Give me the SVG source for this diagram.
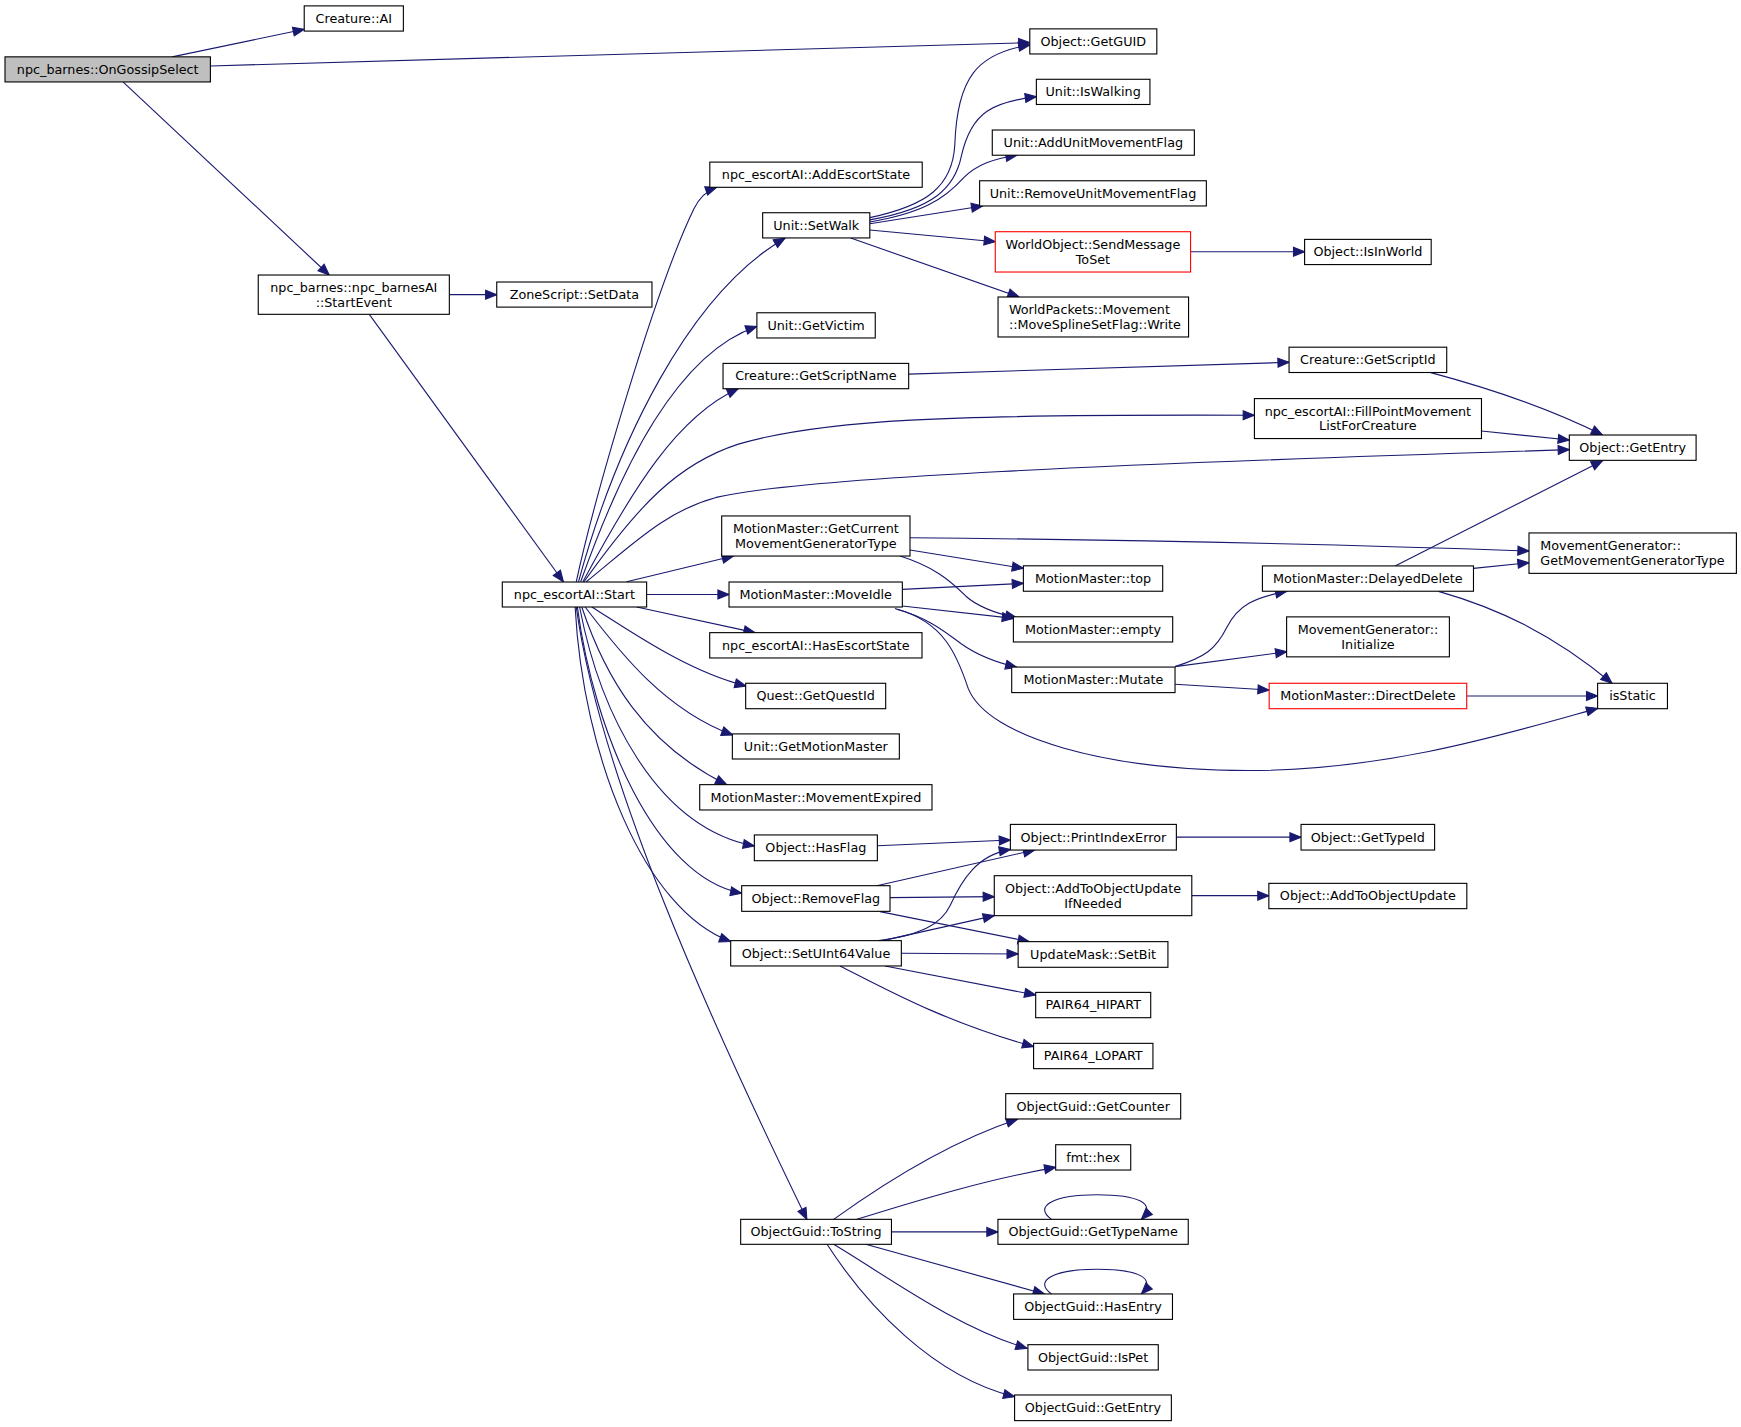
<svg xmlns="http://www.w3.org/2000/svg" width="1741" height="1427" viewBox="0 0 1741 1427">
<style>
.n rect{fill:#fff;stroke:#000;stroke-width:1}
.n.root rect{fill:#bfbfbf}
.n.red rect{stroke:#f00}
text{font-family:"DejaVu Sans","Liberation Sans",sans-serif;font-size:11.5px;fill:#000;text-anchor:middle}
text.l{text-anchor:start}
#edges path{fill:none;stroke:#191970;stroke-width:1;marker-end:url(#a)}
</style>
<defs>
<marker id="a" markerUnits="userSpaceOnUse" markerWidth="12" markerHeight="10" refX="10" refY="4" orient="auto" overflow="visible"><path d="M0,0 L10,4 L0,8 z" fill="#191970" stroke="#191970" stroke-width="1"/></marker>
</defs>
<rect x="0" y="0" width="1741" height="1427" fill="#fff"/>
<g transform="scale(1.1103)">
<g id="edges">
<path d="M155,51.2 L274,26.4"/>
<path d="M189.6,59.4 L927.5,38.4"/>
<path d="M111,74 L296.5,247.7"/>
<path d="M404.7,265.4 L447.4,265.4"/>
<path d="M332.6,283.1 L507.4,524"/>
<path d="M519,524 C535,450 590,260 625,188 C630,178 636,172 645.5,168.7"/>
<path d="M521,524 C555,400 620,265 707,214.5"/>
<path d="M523,524 C560,420 610,318 681.7,294"/>
<path d="M525,524 C570,440 610,375 665,350"/>
<path d="M526,524 C575,455 610,418 665,400 C740,378 850,373 1129.7,374"/>
<path d="M528,524 C570,490 600,460 645,448 C720,430 1000,418 1413.4,405"/>
<path d="M564.4,524 L660.5,500.8"/>
<path d="M582.4,535.5 L656.6,535.5"/>
<path d="M573.4,546.7 L680,569.8"/>
<path d="M533,546.7 C570,570 620,605 671.9,617.9"/>
<path d="M527,546.7 C560,590 600,640 659.9,662"/>
<path d="M524,546.7 C545,610 580,670 654.5,706.7"/>
<path d="M522,546.7 C540,640 590,745 679.4,762"/>
<path d="M520,546.7 C535,660 590,790 668,804.6"/>
<path d="M518,546.7 C525,680 580,820 658.1,848"/>
<path d="M519,546.7 C540,700 640,920 726.7,1098.2"/>
<path d="M783.4,196 C835,185 858,168 860,130 C862,70 880,48 927.5,40.5"/>
<path d="M783.4,198 C840,188 860,170 866,140 C875,100 895,92 933.4,87"/>
<path d="M783.4,200 C830,192 850,180 868,160 C880,148 895,143 916,139.8"/>
<path d="M783.4,201.5 L885,185.5"/>
<path d="M783.4,207.2 L896.4,217.7"/>
<path d="M766.2,214.4 L917.8,267.5"/>
<path d="M1072.3,226.8 L1175,226.8"/>
<path d="M818.4,337 L1161,326.3"/>
<path d="M1288.7,335.6 C1350,352 1400,370 1443.3,391.8"/>
<path d="M1334.3,388.2 L1413.4,396.3"/>
<path d="M819.6,484.3 C1000,486 1200,490 1377.1,496.3"/>
<path d="M819.6,495.4 L921.7,511.9"/>
<path d="M810.6,500.8 C840,510 855,522 870,537 C880,546 895,552 915.7,556.5"/>
<path d="M812.7,530.8 L921.7,525.4"/>
<path d="M812.7,545.8 L912.7,556.9"/>
<path d="M806,548 C835,556 850,568 866,580 C880,590 895,596 915.7,601"/>
<path d="M807.6,548.8 C850,560 862,590 872,620 C890,665 1000,694 1125,694 C1250,694 1360,660 1438.9,638"/>
<path d="M1058.3,600.4 C1085,592 1095,585 1105,565 C1115,545 1130,538 1158.9,532.6"/>
<path d="M1058.3,600.4 L1158.9,587"/>
<path d="M1058.3,616.3 L1143,621.5"/>
<path d="M1256.5,509.8 L1443.3,414.9"/>
<path d="M1327.1,511.9 L1377.1,506.8"/>
<path d="M1295.6,532.6 C1350,548 1400,572 1451.9,615.4"/>
<path d="M1321,626.9 L1438.9,626.9"/>
<path d="M790.2,761.7 L910,756.5"/>
<path d="M789.6,797.7 L931.8,765.6"/>
<path d="M801.6,808.5 L895.5,807.6"/>
<path d="M792.6,821.1 L927,848.1"/>
<path d="M791.1,847.2 C830,842 848,832 856,815 C866,793 880,770 910,765"/>
<path d="M795,847.2 L895.5,824.7"/>
<path d="M811.8,858.6 L917,859.2"/>
<path d="M797.1,870 L932.8,896.2"/>
<path d="M756.6,870 C800,892 850,920 930.9,942.7"/>
<path d="M1059.5,754 L1171.8,754"/>
<path d="M1073.4,806.7 L1142.8,806.7"/>
<path d="M750.8,1098.2 C790,1070 850,1030 916.4,1008"/>
<path d="M771.7,1098.2 C830,1080 890,1062 950.8,1051.4"/>
<path d="M802.9,1109.5 L898.8,1109.5"/>
<path d="M779.7,1120.7 L940.6,1165.4"/>
<path d="M750.8,1120.7 C800,1150 860,1195 925,1214.4"/>
<path d="M744.9,1120.7 C780,1175 840,1240 913.8,1258"/>
<path d="M947,1098.2 C930,1086 950,1076 988,1076 C1025,1076 1042,1084 1028,1098.2"/>
<path d="M947,1165.4 C930,1153 950,1143.2 988,1143.2 C1025,1143.2 1042,1151 1028,1165.4"/>
</g>
<g id="n1" class="n root"><rect x="4.5" y="51.2" width="185" height="22.6"/><text x="97" y="66.5">npc_barnes::OnGossipSelect</text></g>
<g id="n2" class="n"><rect x="274" y="5.3" width="89.3" height="22.7"/><text x="318.65" y="20.6">Creature::AI</text></g>
<g id="n3" class="n"><rect x="927.5" y="26" width="114.4" height="22.6"/><text x="984.7" y="41.3">Object::GetGUID</text></g>
<g id="n4" class="n"><rect x="232.6" y="247.7" width="172.1" height="35.4"/><text x="318.65" y="262.9">npc_barnes::npc_barnesAI</text><text x="318.65" y="276.1">::StartEvent</text></g>
<g id="n5" class="n"><rect x="447.4" y="254" width="139.8" height="22.6"/><text x="517.3" y="269.3">ZoneScript::SetData</text></g>
<g id="n6" class="n"><rect x="452.4" y="524.2" width="130" height="22.5"/><text x="517.4" y="539.5">npc_escortAI::Start</text></g>
<g id="n7" class="n"><rect x="639.3" y="146" width="191.3" height="22.7"/><text x="734.95" y="161.3">npc_escortAI::AddEscortState</text></g>
<g id="n8" class="n"><rect x="686.9" y="191.6" width="96.5" height="22.7"/><text x="735.15" y="207">Unit::SetWalk</text></g>
<g id="n9" class="n"><rect x="933.4" y="71.4" width="102.3" height="22.7"/><text x="984.55" y="86.7">Unit::IsWalking</text></g>
<g id="n10" class="n"><rect x="893.7" y="117.1" width="182" height="22.7"/><text x="984.7" y="132.5">Unit::AddUnitMovementFlag</text></g>
<g id="n11" class="n"><rect x="882.3" y="162.8" width="204.2" height="22.7"/><text x="984.4" y="178.1">Unit::RemoveUnitMovementFlag</text></g>
<g id="n12" class="n red"><rect x="896.4" y="208.7" width="175.9" height="36.3"/><text x="984.35" y="224.3">WorldObject::SendMessage</text><text x="984.35" y="237.5">ToSet</text></g>
<g id="n13" class="n"><rect x="1175" y="215.6" width="114" height="22.7"/><text x="1232" y="231">Object::IsInWorld</text></g>
<g id="n14" class="n"><rect x="898.9" y="267.5" width="171.6" height="36"/><text class="l" x="908.7" y="283">WorldPackets::Movement</text><text class="l" x="908.7" y="296.2">::MoveSplineSetFlag::Write</text></g>
<g id="n15" class="n"><rect x="681.7" y="281.7" width="106.6" height="22.7"/><text x="735" y="297">Unit::GetVictim</text></g>
<g id="n16" class="n"><rect x="651.2" y="327.3" width="167.2" height="22.8"/><text x="734.8" y="342.7">Creature::GetScriptName</text></g>
<g id="n17" class="n"><rect x="1161" y="312.7" width="142" height="22.8"/><text x="1232" y="328.1">Creature::GetScriptId</text></g>
<g id="n18" class="n"><rect x="1129.8" y="359" width="204.5" height="36"/><text x="1232" y="374.5">npc_escortAI::FillPointMovement</text><text x="1232" y="387.7">ListForCreature</text></g>
<g id="n19" class="n"><rect x="1413.4" y="391.8" width="114.2" height="22.8"/><text x="1470.5" y="407.2">Object::GetEntry</text></g>
<g id="n20" class="n"><rect x="650" y="464.7" width="169.6" height="36.1"/><text x="734.8" y="480.3">MotionMaster::GetCurrent</text><text x="734.8" y="493.5">MovementGeneratorType</text></g>
<g id="n21" class="n"><rect x="1377.1" y="480" width="186.8" height="36.4"/><text class="l" x="1387.3" y="495.7">MovementGenerator::</text><text class="l" x="1387.3" y="508.9">GetMovementGeneratorType</text></g>
<g id="n22" class="n"><rect x="921.7" y="509.6" width="125.5" height="22.9"/><text x="984.45" y="525">MotionMaster::top</text></g>
<g id="n23" class="n"><rect x="656.6" y="524.2" width="156.1" height="22.5"/><text x="734.65" y="539.5">MotionMaster::MoveIdle</text></g>
<g id="n24" class="n"><rect x="912.7" y="555.5" width="143.5" height="22.7"/><text x="984.45" y="570.8">MotionMaster::empty</text></g>
<g id="n25" class="n"><rect x="1137" y="509.7" width="190.1" height="22.8"/><text x="1232" y="525.1">MotionMaster::DelayedDelete</text></g>
<g id="n26" class="n"><rect x="1158.8" y="555.6" width="146.6" height="36"/><text x="1232.1" y="571.1">MovementGenerator::</text><text x="1232.1" y="584.3">Initialize</text></g>
<g id="n27" class="n"><rect x="911.2" y="600.8" width="147.1" height="23"/><text x="984.75" y="616.3">MotionMaster::Mutate</text></g>
<g id="n28" class="n red"><rect x="1143.1" y="615.4" width="177.9" height="22.9"/><text x="1232" y="630.9">MotionMaster::DirectDelete</text></g>
<g id="n29" class="n"><rect x="1438.9" y="615.4" width="62.9" height="22.9"/><text x="1470.35" y="630.9">isStatic</text></g>
<g id="n30" class="n"><rect x="639.2" y="569.8" width="191.2" height="22.8"/><text x="734.8" y="585.2">npc_escortAI::HasEscortState</text></g>
<g id="n31" class="n"><rect x="671.6" y="615.4" width="126.1" height="22.9"/><text x="734.65" y="630.9">Quest::GetQuestId</text></g>
<g id="n32" class="n"><rect x="659.6" y="661" width="150.4" height="22.6"/><text x="734.8" y="676.3">Unit::GetMotionMaster</text></g>
<g id="n33" class="n"><rect x="630.2" y="706.7" width="209.2" height="22.8"/><text x="734.8" y="722.1">MotionMaster::MovementExpired</text></g>
<g id="n34" class="n"><rect x="679.4" y="752" width="110.8" height="23.2"/><text x="734.8" y="767.6">Object::HasFlag</text></g>
<g id="n35" class="n"><rect x="910" y="742.5" width="149.5" height="23.1"/><text x="984.75" y="758">Object::PrintIndexError</text></g>
<g id="n36" class="n"><rect x="1171.8" y="742.5" width="120.3" height="23.1"/><text x="1231.95" y="758">Object::GetTypeId</text></g>
<g id="n37" class="n"><rect x="668" y="797.7" width="133.6" height="23.1"/><text x="734.8" y="813.2">Object::RemoveFlag</text></g>
<g id="n38" class="n"><rect x="895.5" y="788.7" width="177.9" height="36"/><text x="984.45" y="804.2">Object::AddToObjectUpdate</text><text x="984.45" y="817.4">IfNeeded</text></g>
<g id="n39" class="n"><rect x="1142.8" y="795.6" width="178.3" height="22.8"/><text x="1231.95" y="811">Object::AddToObjectUpdate</text></g>
<g id="n40" class="n"><rect x="658.1" y="847.2" width="153.7" height="22.8"/><text x="734.95" y="862.6">Object::SetUInt64Value</text></g>
<g id="n41" class="n"><rect x="917" y="848.1" width="134.9" height="23.1"/><text x="984.45" y="863.6">UpdateMask::SetBit</text></g>
<g id="n42" class="n"><rect x="932.8" y="893.8" width="103.6" height="22.8"/><text x="984.6" y="909.2">PAIR64_HIPART</text></g>
<g id="n43" class="n"><rect x="930.9" y="939.7" width="107.5" height="22.8"/><text x="984.65" y="955.1">PAIR64_LOPART</text></g>
<g id="n44" class="n"><rect x="905.8" y="985" width="157.6" height="22.8"/><text x="984.6" y="1000.4">ObjectGuid::GetCounter</text></g>
<g id="n45" class="n"><rect x="950.8" y="1031" width="67.6" height="22.8"/><text x="984.6" y="1046.4">fmt::hex</text></g>
<g id="n46" class="n"><rect x="667.1" y="1098.2" width="135.8" height="22.5"/><text x="735" y="1113.5">ObjectGuid::ToString</text></g>
<g id="n47" class="n"><rect x="898.8" y="1098.2" width="171.4" height="22.5"/><text x="984.5" y="1113.5">ObjectGuid::GetTypeName</text></g>
<g id="n48" class="n"><rect x="912.9" y="1165.4" width="143.1" height="22.9"/><text x="984.45" y="1180.8">ObjectGuid::HasEntry</text></g>
<g id="n49" class="n"><rect x="925.8" y="1211.1" width="117.4" height="22.8"/><text x="984.5" y="1226.5">ObjectGuid::IsPet</text></g>
<g id="n50" class="n"><rect x="913.8" y="1256.4" width="141.2" height="23.1"/><text x="984.4" y="1272">ObjectGuid::GetEntry</text></g>
</g>
</svg>
